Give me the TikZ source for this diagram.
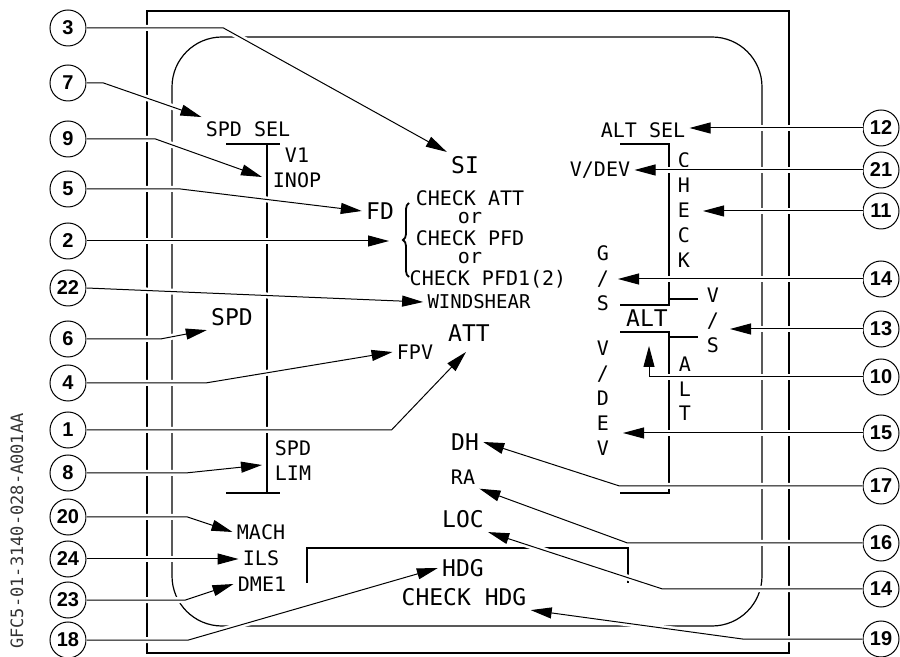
\documentclass[tikz,border=0pt]{standalone}
\usepackage{fontspec}
\setmainfont{DejaVu Sans Mono}
\newfontfamily\angkafont{Liberation Sans}
\usetikzlibrary{arrows.meta,decorations.pathreplacing}

\begin{document}
\begin{tikzpicture}[x=0.5pt,y=-0.5pt,
    garis/.style={line width=0.6pt},
    panah/.style={line width=0.5pt,-{Triangle[length=10.5pt,width=5.5pt]},
      preaction={draw=white,line width=3pt,-}},
    bulat/.style={draw,circle,line width=0.5pt,minimum size=18pt,inner sep=0pt,
      font=\angkafont\bfseries\fontsize{10}{10}\selectfont},
    teks/.style={inner sep=2pt,font=\fontsize{10}{12.5}\selectfont},
    besar/.style={inner sep=2pt,font=\fontsize{11.5}{14}\selectfont},
    tegak/.style={inner sep=2pt,align=center,font=\fontsize{10}{12.5}\selectfont}]
    \useasboundingbox (0,0) rectangle (900,657);
    % Bingkai luar dan layar
    \draw[garis] (147,11) rectangle (789,653);
    \draw[garis,rounded corners=25pt] (172,37) rectangle (762,626);
    % Pita kecepatan, ketinggian dan kotak heading
    \draw[garis] (226,144) -- (280,144) (267,144) -- (267,493) (226,493) -- (280,493);
    \draw[garis] (620,144) -| (669,305) -- (620,305) (669,299) -- (698,299);
    \draw[garis] (620,332) -| (669,493) -- (620,493) (669,337) -- (698,337);
    \draw[garis] (307,583) |- (628,548) -- (628,583);
    \draw[line width=0.9pt,decorate,decoration={brace,amplitude=3pt}]
      (409,277) -- (409,203);
    % Teks kiri
    \node[teks] (spdsel) at (248,129) {SPD SEL};
    \node[teks,align=center] (v1) at (297,168) {V1\\INOP};
    \node[besar] (spd) at (232,317) {SPD};
    \node[teks,align=center] (spdlim) at (293,461) {SPD\\LIM};
    \node[teks] (mach) at (261,532) {MACH};
    \node[teks] (ils) at (261,558) {ILS};
    \node[teks] (dme) at (262,584) {DME1};
    % Teks tengah
    \node[besar] (si) at (465,165) {SI};
    \node[besar] (fd) at (380,211) {FD};
    \node[teks] (cekatt) at (470,198) {CHECK ATT};
    \node[teks] (or1) at (470,218) {or};
    \node[teks] (cekpfd) at (470,238) {CHECK PFD};
    \node[teks] (or2) at (470,258) {or};
    \node[teks] (cekpfd1) at (488,279) {CHECK PFD1(2)};
    \node[teks,font=\fontsize{9.5}{11}\selectfont] (ws) at (479,302) {WINDSHEAR};
    \node[besar] (att) at (469,333) {ATT};
    \node[teks] (fpv) at (415,352) {FPV};
    \node[besar] (dh) at (465,442) {DH};
    \node[teks] (ra) at (463,477) {RA};
    \node[besar] (loc) at (463,519) {LOC};
    \node[besar] (hdg) at (463,568) {HDG};
    \node[besar] (cekhdg) at (464,597) {CHECK HDG};
    % Teks kanan
    \node[teks] (altsel) at (643,130) {ALT SEL};
    \node[teks] (vdev) at (600,170) {V/DEV};
    \node[tegak] (check) at (684,210) {C\\H\\E\\C\\K};
    \node[tegak] (gs) at (603,278) {G\\/\\S};
    \node[tegak] (vs) at (713,320) {V\\/\\S};
    \node[besar] (alt) at (647,318) {ALT};
    \node[tegak,font=\fontsize{10}{12.2}\selectfont] (altv) at (685,389) {A\\L\\T};
    \node[tegak] (vdevv) at (603,398) {V\\/\\D\\E\\V};
    \node[rotate=90,inner sep=1pt,font=\fontsize{8.5}{10}\selectfont,text=black!80] (kode)
      at (17,531) {GFC5-01-3140-028-A001AA};
    % Nomor bulat
    \foreach \n/\y in {3/28,7/83,9/139,5/189,2/241,22/288,6/339,4/383,1/430,
      8/473,20/517,24/559,23/600,18/640}
      \node[bulat] (k\n) at (68,\y) {\n};
    \foreach \m/\n/\y in {12/12/128,21/21/170,11/11/211,14a/14/279,13/13/329,
      10/10/377,15/15/433,17/17/486,16/16/543,14b/14/589,19/19/639}
      \node[bulat] (k\m) at (881,\y) {\n};
    % Ujung panah yang menunjuk garis
    \coordinate (t9) at (262,177);
    \coordinate (t2) at (389,241);
    \coordinate (t1) at (466,352);
    \coordinate (t8) at (262,465);
    \coordinate (t11) at (703,211);
    \coordinate (t14) at (618,279);
    \coordinate (t13) at (730,329);
    \coordinate (t10) at (649,346);
    \coordinate (t15) at (623,433);
    % Garis penunjuk kiri
    \draw[panah] (k3.east) -- ++(137,0) -- (si.north west);
    \draw[panah] (k7.east) -- ++(17,0) -- (spdsel.north west);
    \draw[panah] (k9.east) -- ++(69,0) -- (t9);
    \draw[panah] (k5.east) -- ++(94,0) -- (fd.west);
    \draw[panah] (k2.east) -- (t2);
    \draw[panah] (k22.east) -- (ws.west);
    \draw[panah] (k6.east) -- ++(74,0) -- (spd.south west);
    \draw[panah] (k4.east) -- ++(119,0) -- (fpv.west);
    \draw[panah] (k1.east) -- ++(305,0) -- (t1);
    \draw[panah] (k8.east) -- ++(99,0) -- (t8);
    \draw[panah] (k20.east) -- ++(101,0) -- (mach.west);
    \draw[panah] (k24.east) -- (k24.east -| ils.west);
    \draw[panah] (k23.east) -- ++(99,0) -- (dme.west);
    \draw[panah] (k18.east) -- ++(102,0) -- (hdg.west);
    % Garis penunjuk kanan
    \draw[panah] (k12.west) -- (k12.west -| altsel.east);
    \draw[panah] (k21.west) -- (k21.west -| vdev.east);
    \draw[panah] (k11.west) -- (t11);
    \draw[panah] (k14a.west) -- (t14);
    \draw[panah] (k13.west) -- (t13);
    \draw[panah] (k10.west) -| (t10);
    \draw[panah] (k15.west) -- (t15);
    \draw[panah] (k17.west) -- ++(-243,0) -- (dh.east);
    \draw[panah] (k16.west) -- ++(-235,0) -- (ra.south east);
    \draw[panah] (k14b.west) -- ++(-200,0) -- (loc.south east);
    \draw[panah] (k19.west) -- ++(-120,0) -- (cekhdg.south east);
\end{tikzpicture}
\end{document}
